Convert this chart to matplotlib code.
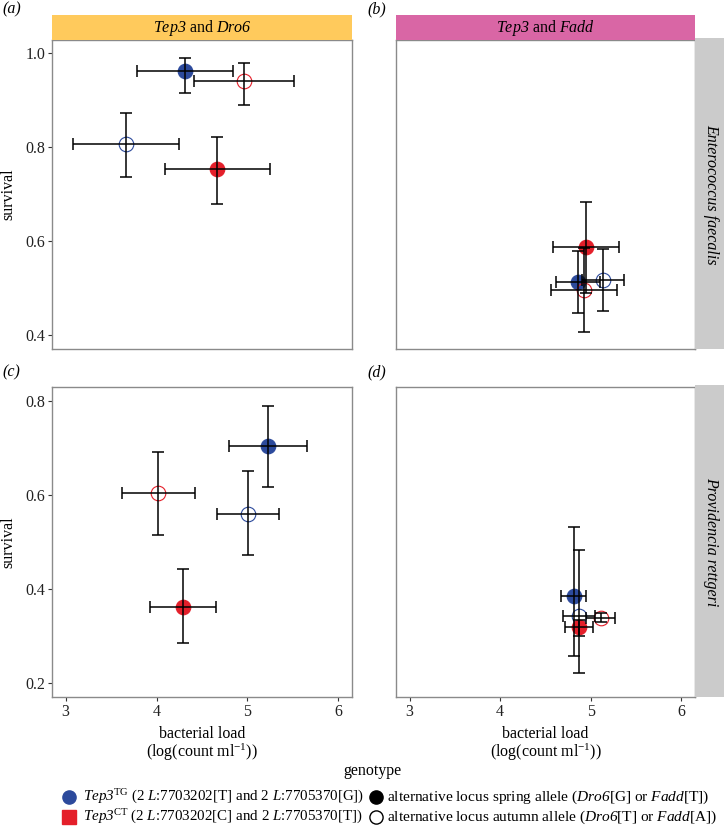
import matplotlib
matplotlib.use("Agg")
import matplotlib.pyplot as plt
from matplotlib.lines import Line2D
from matplotlib.patches import Rectangle
import numpy as np

plt.rcParams['font.family'] = ['Liberation Serif', 'DejaVu Serif']
plt.rcParams['mathtext.fontset'] = 'custom'
plt.rcParams['mathtext.rm'] = 'Liberation Serif:italic'
plt.rcParams['mathtext.it'] = 'Liberation Serif:italic'
plt.rcParams['mathtext.sf'] = 'Liberation Serif'
plt.rcParams['mathtext.bf'] = 'Liberation Serif:bold'

# ---- data (order: Tep3TG spring, Tep3TG autumn, Tep3CT spring, Tep3CT autumn)
genotype_colors = ['#2c4a9c', '#2c4a9c', '#e41f2a', '#e41f2a']
genotype_filled = [True, False, True, False]

# panel a: Tep3 and Dro6, Enterococcus faecalis
a_x = [4.31, 3.66, 4.67, 4.96]
a_xlo = [3.79, 3.08, 4.09, 4.41]
a_xhi = [4.84, 4.25, 5.25, 5.51]
a_y = [0.961, 0.807, 0.753, 0.940]
a_ylo = [0.916, 0.737, 0.679, 0.890]
a_yhi = [0.989, 0.872, 0.822, 0.979]

# panel b: Tep3 and Fadd, Enterococcus faecalis
b_x = [4.86, 5.13, 4.95, 4.93]
b_xlo = [4.62, 4.90, 4.58, 4.56]
b_xhi = [5.10, 5.37, 5.31, 5.29]
b_y = [0.512, 0.517, 0.588, 0.495]
b_ylo = [0.446, 0.451, 0.490, 0.406]
b_yhi = [0.579, 0.584, 0.684, 0.585]

# panel c: Tep3 and Dro6, Providencia rettgeri
c_x = [5.23, 5.01, 4.29, 4.02]
c_xlo = [4.80, 4.67, 3.93, 3.62]
c_xhi = [5.66, 5.35, 4.65, 4.42]
c_y = [0.705, 0.560, 0.361, 0.604]
c_ylo = [0.617, 0.473, 0.286, 0.515]
c_yhi = [0.790, 0.651, 0.443, 0.692]

# panel d: Tep3 and Fadd, Providencia rettgeri
d_x = [4.81, 4.87, 4.87, 5.11]
d_xlo = [4.67, 4.69, 4.72, 4.95]
d_xhi = [4.95, 5.05, 5.02, 5.27]
d_y = [0.386, 0.343, 0.318, 0.339]
d_ylo = [0.258, 0.221, 0.300, 0.330]
d_yhi = [0.532, 0.482, 0.335, 0.348]

x_ticks = [3, 4, 5, 6]
row1_yticks = [0.4, 0.6, 0.8, 1.0]
row2_yticks = [0.2, 0.4, 0.6, 0.8]
col_titles = [r'$Tep3$ and $Dro6$', r'$Tep3$ and $Fadd$']
col_colors = ['#ffca5c', '#d966a5']
row_titles = ['Enterococcus faecalis', 'Providencia rettgeri']
panel_letters = ['(a)', '(b)', '(c)', '(d)']

W, H = 724, 832
fig = plt.figure(figsize=(W / 100, H / 100), dpi=100)

def fx(px):
    return px / W

def fy(py):
    return 1 - py / H

def axes_px(l, t, r, b):
    return [fx(l), fy(b), (r - l) / W, (b - t) / H]

cols_px = [(52, 352), (396, 695)]
rows_px = [(40, 349), (387, 697)]
ylims = [(0.37, 1.028), (0.17, 0.83)]
xlim = (2.85, 6.15)
letter_x = [2, 367]
letter_y = [9, 372]

panels = [
    (a_x, a_xlo, a_xhi, a_y, a_ylo, a_yhi),
    (b_x, b_xlo, b_xhi, b_y, b_ylo, b_yhi),
    (c_x, c_xlo, c_xhi, c_y, c_ylo, c_yhi),
    (d_x, d_xlo, d_xhi, d_y, d_ylo, d_yhi),
]

spine_col = '#8a8a8a'
for i, data in enumerate(panels):
    r, c = divmod(i, 2)
    l, rr = cols_px[c]
    t, b = rows_px[r]
    ax = fig.add_axes(axes_px(l, t, rr, b))
    x, xlo, xhi, y, ylo, yhi = [np.array(v) for v in data]
    for j in range(len(x)):
        col = genotype_colors[j]
        if genotype_filled[j]:
            ax.plot(x[j], y[j], 'o', ms=10.5, mfc=col, mec=col, mew=0.8, zorder=2)
        else:
            ax.plot(x[j], y[j], 'o', ms=10.5, mfc='none', mec=col, mew=0.8, zorder=2)
        ax.errorbar(x[j], y[j],
                    xerr=[[x[j] - xlo[j]], [xhi[j] - x[j]]],
                    yerr=[[y[j] - ylo[j]], [yhi[j] - y[j]]],
                    fmt='none', ecolor='black', elinewidth=1.1, capsize=4.3,
                    capthick=1.1, zorder=3)
    ax.set_xlim(*xlim)
    ax.set_ylim(*ylims[r])
    ax.set_xticks(x_ticks)
    ax.set_yticks(row1_yticks if r == 0 else row2_yticks)
    ax.yaxis.set_major_formatter(matplotlib.ticker.FormatStrFormatter('%.1f'))
    for s in ax.spines.values():
        s.set_color(spine_col)
        s.set_linewidth(1.0)
    ax.tick_params(direction='out', length=3, width=0.8, color='#333333',
                   labelsize=11.5, labelcolor='#222222', pad=2)
    if c == 0:
        ax.set_ylabel('survival', fontsize=11.5, labelpad=6)
    else:
        ax.tick_params(axis='y', left=False, labelleft=False)
    if r == 1:
        ax.set_xlabel('bacterial load\n(log(count ml$^{\\mathsf{-1}}$))', fontsize=11.5,
                      labelpad=4, linespacing=1.0)
    else:
        ax.tick_params(axis='x', bottom=False, labelbottom=False)
    fig.text(fx(letter_x[c]), fy(letter_y[r]), panel_letters[i], fontsize=11.5,
             style='italic', ha='left', va='center')

# column strips
for c in range(2):
    l, rr = cols_px[c]
    fig.patches.append(Rectangle((fx(l), fy(40)), (rr - l) / W, 25 / H,
                                 transform=fig.transFigure, facecolor=col_colors[c],
                                 edgecolor='none'))
    fig.text(fx((l + rr) / 2), fy(27.5), col_titles[c], fontsize=11.5,
             ha='center', va='center')

# row strips
for r in range(2):
    t, b = rows_px[r]
    fig.patches.append(Rectangle((fx(695), fy(b)), 29 / W, (b - t + 2) / H,
                                 transform=fig.transFigure, facecolor='#cbcbcb',
                                 edgecolor='none'))
    fig.text(fx(711), fy((t + b) / 2), row_titles[r], fontsize=11.5,
             style='italic', rotation=-90, ha='center', va='center')

# legend
fig.text(fx(372), fy(771), 'genotype', fontsize=11.5, ha='center', va='center')
leg_items = [
    (69, 797, 'o', '#2c4a9c', '#2c4a9c', 83, 10.8,
     r'$Tep3^{\mathsf{TG}}$ (2 $L$:7703202[T] and 2 $L$:7705370[G])'),
    (69, 817, 's', '#e41f2a', '#e41f2a', 83, 10.8,
     r'$Tep3^{\mathsf{CT}}$ (2 $L$:7703202[C] and 2 $L$:7705370[T])'),
    (376, 797, 'o', 'black', 'black', 387, 11.1,
     r'alternative locus spring allele ($Dro6$[G] or $Fadd$[T])'),
    (376, 817, 'o', 'none', 'black', 387, 11.1,
     r'alternative locus autumn allele ($Dro6$[T] or $Fadd$[A])'),
]
for px, py, m, fc, ec, tx, fs, lab in leg_items:
    fig.add_artist(Line2D([fx(px)], [fy(py)], marker=m, ms=9.5, mfc=fc, mec=ec,
                          mew=1.0, linestyle='none', transform=fig.transFigure))
    fig.text(fx(tx), fy(py), lab, fontsize=fs, ha='left', va='center')

fig.savefig('out.png', dpi=100)
